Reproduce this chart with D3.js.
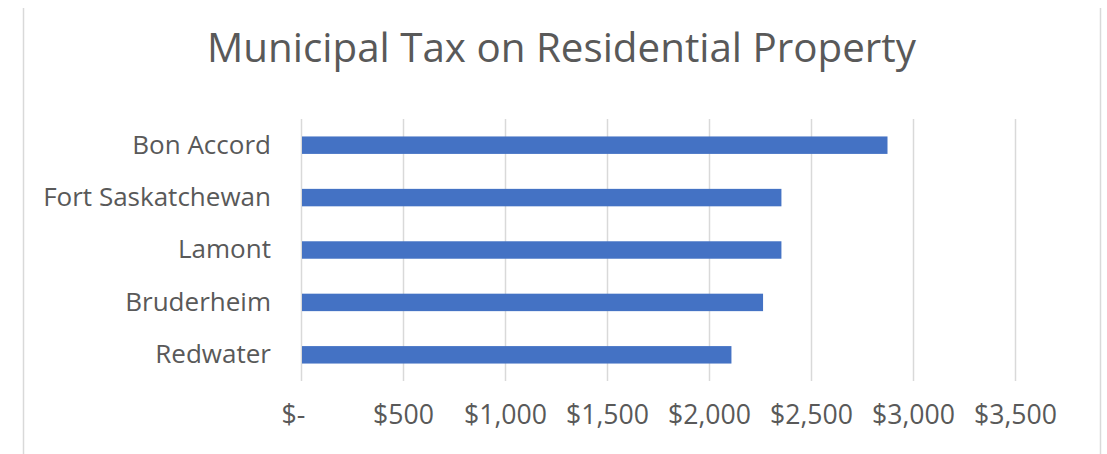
<!DOCTYPE html>
<html>
<head>
<meta charset="utf-8">
<script src="https://cdn.jsdelivr.net/npm/d3@7"></script>
<style>
  html, body { margin: 0; padding: 0; background: #ffffff; }
  svg { display: block; }
</style>
</head>
<body>
<svg id="chart" width="1107" height="454"></svg>
<script>
const title = "Municipal Tax on Residential Property";
const categories = ["Bon Accord", "Fort Saskatchewan", "Lamont", "Bruderheim", "Redwater"];
const values = [2875, 2355, 2355, 2265, 2110];
const tickValues = [0, 500, 1000, 1500, 2000, 2500, 3000, 3500];

const FONT = "'Open Sans', 'Noto Sans', sans-serif";
const svg = d3.select("#chart");

// chart frame
svg.append("line").attr("x1", 23.5).attr("x2", 23.5).attr("y1", 8).attr("y2", 454)
  .attr("stroke", "#d9d9d9").attr("stroke-width", 1.5);
svg.append("line").attr("x1", 1100.5).attr("x2", 1100.5).attr("y1", 8).attr("y2", 454)
  .attr("stroke", "#d9d9d9").attr("stroke-width", 1.5);

const x = d3.scaleLinear().domain([0, 3500]).range([301, 1015]);
const y = d3.scaleBand().domain(categories).range([119, 381])
  .paddingInner(0.667).paddingOuter(0.333);

// fit a font size so that a sample string reaches a target width
function fitSize(sample, target, base) {
  const t = svg.append("text").attr("font-family", FONT).attr("font-size", base).text(sample);
  const w = t.node().getComputedTextLength();
  t.remove();
  return base * target / w;
}

const labelSize = fitSize("Fort Saskatchewan", 228, 20);
const tickSize = fitSize("$1,000", 83, 20);
const titleSize = fitSize(title, 709, 30);

// gridlines
svg.append("g").selectAll("line").data(tickValues).join("line")
  .attr("x1", d => x(d) + 0.5).attr("x2", d => x(d) + 0.5)
  .attr("y1", 119).attr("y2", 381)
  .attr("stroke", "#d9d9d9").attr("stroke-width", 1.5);

// bars
svg.append("g").selectAll("rect").data(categories).join("rect")
  .attr("x", x(0) + 1)
  .attr("y", d => y(d))
  .attr("width", (d, i) => x(values[i]) - x(0) - 1)
  .attr("height", y.bandwidth())
  .attr("fill", "#4472c4");

// x axis (labels only)
const xAxis = d3.axisBottom(x).tickValues(tickValues).tickSize(0)
  .tickFormat(d => d === 0 ? "$-" : "$" + d3.format(",")(d));
const gx = svg.append("g").attr("transform", "translate(0,381)").call(xAxis);
gx.select(".domain").remove();
gx.selectAll("text")
  .attr("font-family", FONT).attr("font-size", tickSize).attr("fill", "#595959")
  .attr("dy", null).attr("y", 43)
  .attr("dx", d => d === 0 ? -8 : 0);

// y axis (labels only)
const yAxis = d3.axisLeft(y).tickSize(0);
const gy = svg.append("g").attr("transform", "translate(271,0)").call(yAxis);
gy.select(".domain").remove();
gy.selectAll("text")
  .attr("font-family", FONT).attr("font-size", labelSize).attr("fill", "#595959")
  .attr("x", 0).attr("dy", "0.32em");

// title
svg.append("text")
  .attr("x", 561.5).attr("y", 62)
  .attr("text-anchor", "middle")
  .attr("font-family", FONT).attr("font-size", titleSize).attr("fill", "#595959")
  .text(title);
</script>
</body>
</html>
